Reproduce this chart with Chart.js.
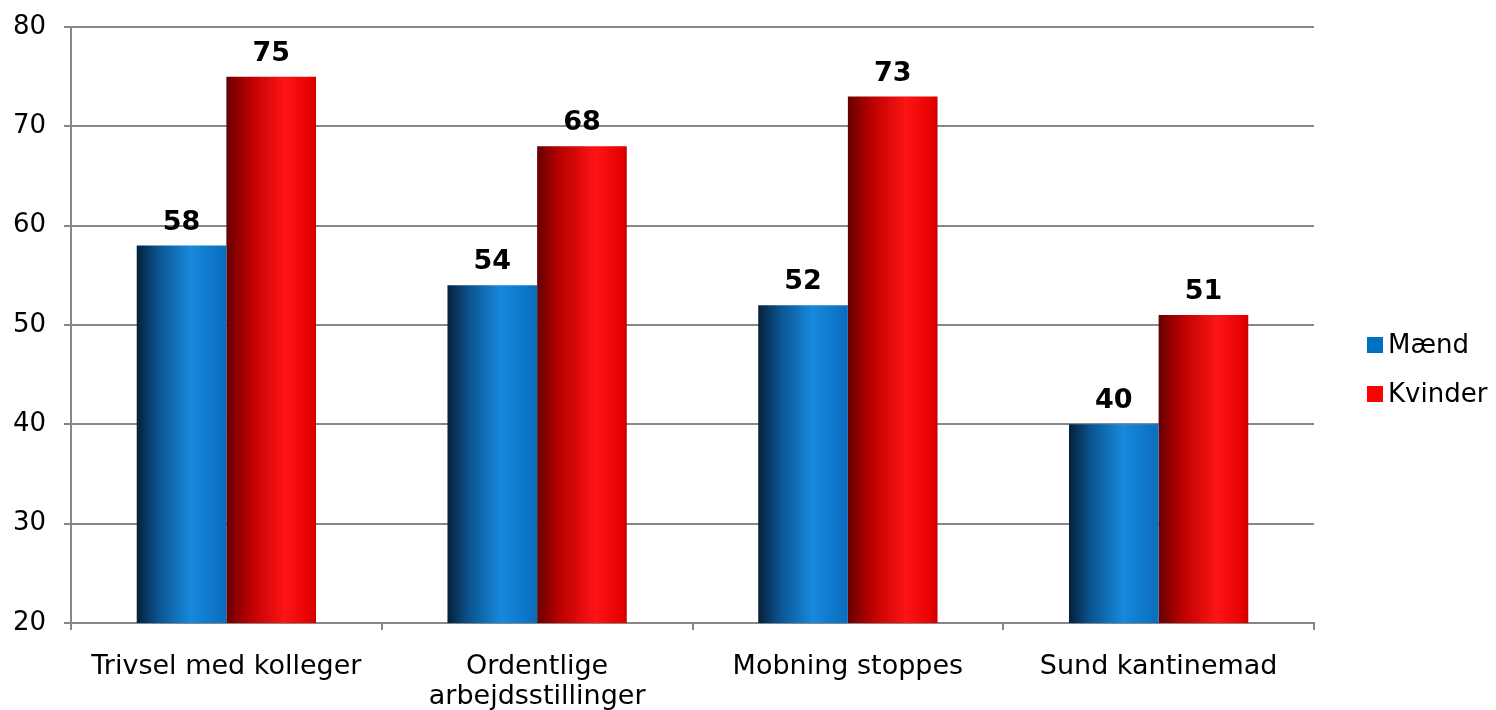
<!DOCTYPE html>
<html>
<head>
<meta charset="utf-8">
<script src="https://cdn.jsdelivr.net/npm/chart.js@4/dist/chart.umd.min.js"></script>
<style>
    html, body { margin: 0; padding: 0; background: #fff; }
    #wrap { width: 1496px; height: 710px; }
</style>
</head>
<body>
<div id="wrap"><canvas id="chartCanvas" width="1496" height="710"></canvas></div>
<script>
// == Data ==
const categories = [
    "Trivsel med kolleger",
    ["Ordentlige", "arbejdsstillinger"],
    "Mobning stoppes",
    "Sund kantinemad"
];
const seriesNames = ["Mænd", "Kvinder"];
const maendValues = [58, 54, 52, 40];
const kvinderValues = [75, 68, 73, 51];
const yTicks = [20, 30, 40, 50, 60, 70, 80];

// == Styles ==
const FONT = "'DejaVu Sans', Verdana, sans-serif";
const gridColor = '#878787';
const legendColors = ['#0070c0', '#ff0000'];
const gradientStops = [
    [[0, '#05203a'], [0.25, '#0b5592'], [0.6, '#1789dc'], [1, '#0a6cbd']],
    [[0, '#660000'], [0.25, '#b80000'], [0.65, '#ff1414'], [0.95, '#e50000'], [1, '#c80000']]
];

// paints each bar with a horizontal gradient across its own width
const barGradients = {
    id: 'barGradients',
    beforeDatasetsDraw(chart) {
        const ctx = chart.ctx;
        chart.data.datasets.forEach((ds, i) => {
            chart.getDatasetMeta(i).data.forEach(bar => {
                const half = bar.width / 2;
                const g = ctx.createLinearGradient(bar.x - half, 0, bar.x + half, 0);
                gradientStops[i].forEach(([pos, col]) => g.addColorStop(pos, col));
                bar.options = Object.assign({}, bar.options, { backgroundColor: g });
            });
        });
    }
};

// value labels above the bars
const valueLabels = {
    id: 'valueLabels',
    afterDatasetsDraw(chart) {
        const ctx = chart.ctx;
        ctx.save();
        ctx.font = `bold 27px ${FONT}`;
        ctx.fillStyle = '#000';
        ctx.textAlign = 'center';
        ctx.textBaseline = 'alphabetic';
        chart.data.datasets.forEach((ds, i) => {
            chart.getDatasetMeta(i).data.forEach((bar, j) => {
                ctx.fillText(ds.data[j], bar.x, bar.y - 16);
            });
        });
        ctx.restore();
    }
};

// legend on the right
const sideLegend = {
    id: 'sideLegend',
    afterDraw(chart) {
        const ctx = chart.ctx;
        ctx.save();
        ctx.font = `26px ${FONT}`;
        ctx.textBaseline = 'middle';
        ctx.textAlign = 'left';
        chart.data.datasets.forEach((ds, i) => {
            const y = 345 + i * 49;
            ctx.fillStyle = legendColors[i];
            ctx.fillRect(1367, y - 8, 16, 16);
            ctx.fillStyle = '#000';
            ctx.fillText(ds.label, 1388, y + 1);
        });
        ctx.restore();
    }
};

new Chart(document.getElementById('chartCanvas'), {
    type: 'bar',
    data: {
        labels: categories,
        datasets: [
            { label: seriesNames[0], data: maendValues, backgroundColor: legendColors[0] },
            { label: seriesNames[1], data: kvinderValues, backgroundColor: legendColors[1] }
        ]
    },
    options: {
        responsive: false,
        animation: false,
        layout: { padding: { top: 27, right: 182, left: 0, bottom: 0 } },
        plugins: {
            legend: { display: false },
            tooltip: { enabled: false }
        },
        datasets: {
            bar: { categoryPercentage: 0.577, barPercentage: 1, borderWidth: 0 }
        },
        scales: {
            x: {
                offset: true,
                grid: {
                    offset: true,
                    drawOnChartArea: false,
                    drawTicks: true,
                    tickLength: 7,
                    color: gridColor,
                    lineWidth: 2
                },
                border: { color: gridColor, width: 2 },
                ticks: {
                    color: '#000',
                    font: { family: FONT, size: 27, lineHeight: 1.12 },
                    padding: 22,
                    maxRotation: 0,
                    autoSkip: false
                },
                afterFit(scale) { scale.height = 87; }
            },
            y: {
                min: 20,
                max: 80,
                afterBuildTicks(scale) { scale.ticks = yTicks.map(v => ({ value: v })); },
                grid: {
                    color: gridColor,
                    lineWidth: 2,
                    tickLength: 7
                },
                border: { color: gridColor, width: 2 },
                ticks: {
                    color: '#000',
                    font: { family: FONT, size: 26 },
                    padding: 18
                },
                afterFit(scale) {
                    scale.width = 71;
                    scale.paddingTop = 0;
                    scale.paddingBottom = 0;
                }
            }
        }
    },
    plugins: [barGradients, valueLabels, sideLegend]
});
</script>
</body>
</html>
